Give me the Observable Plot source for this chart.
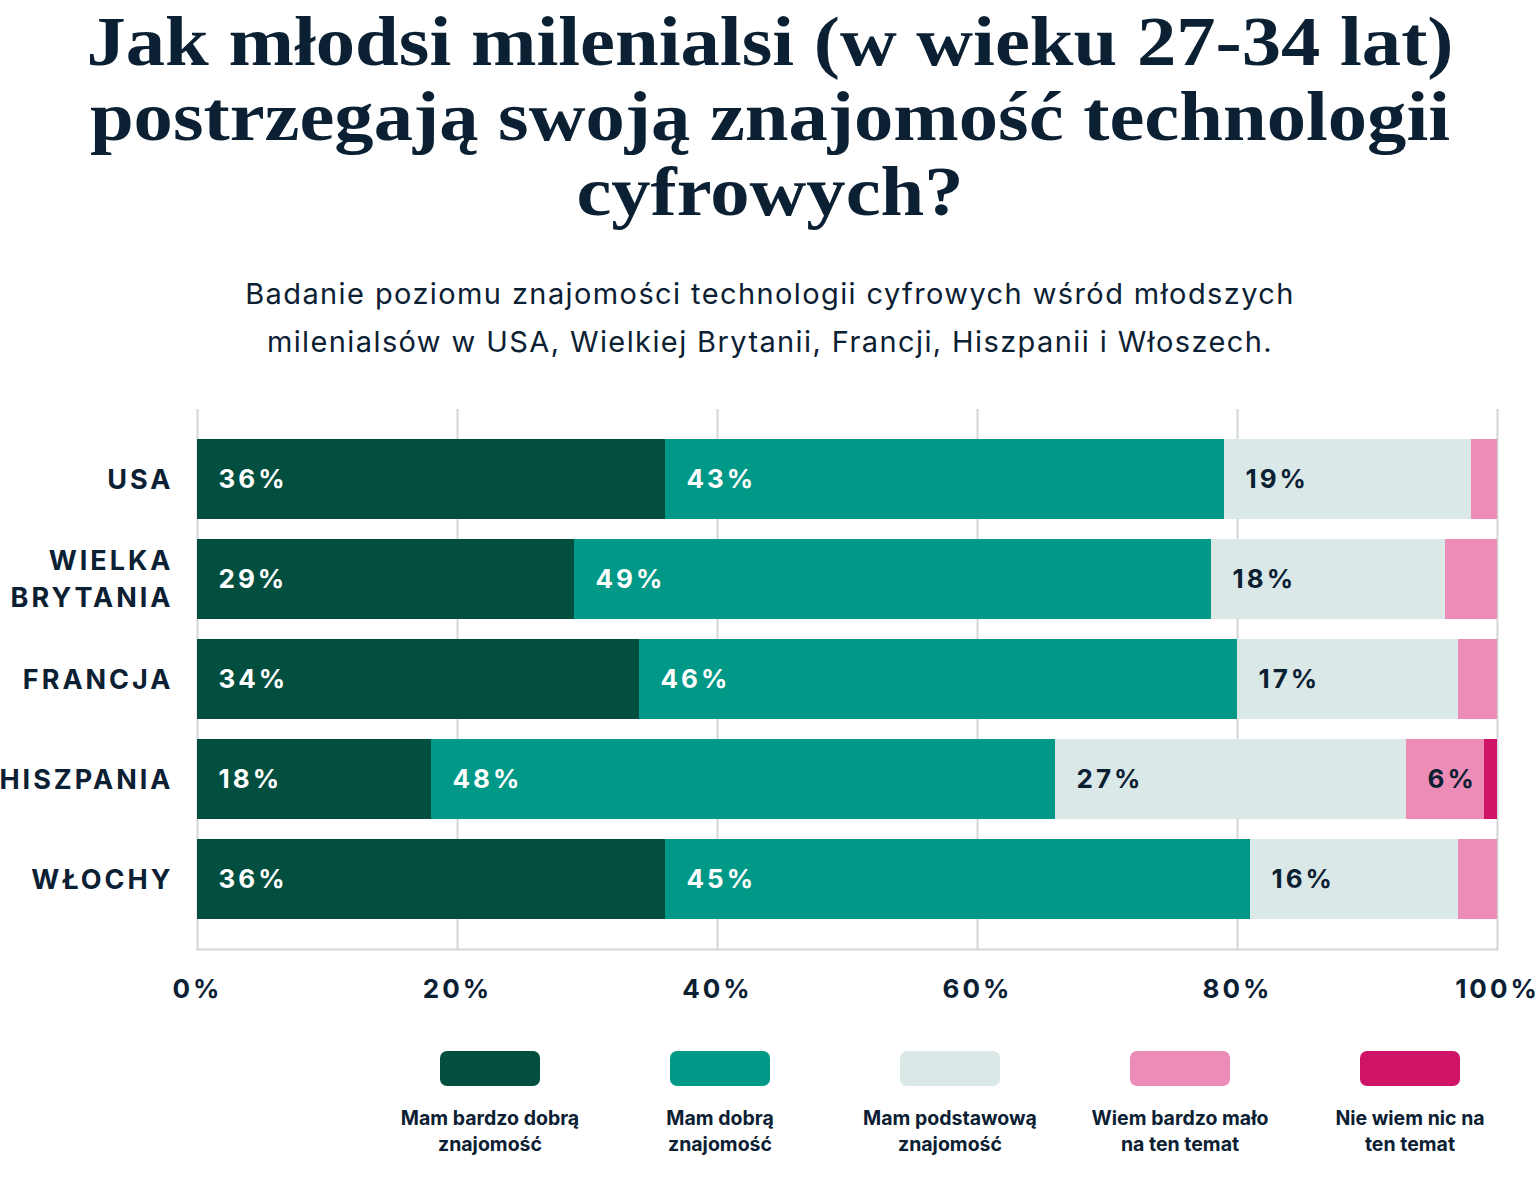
<!DOCTYPE html>
<html lang="pl">
<head>
<meta charset="utf-8">
<script src="https://cdn.jsdelivr.net/npm/d3@7"></script>
<script src="https://cdn.jsdelivr.net/npm/@observablehq/plot@0.6"></script>
<style>
  html, body { margin: 0; padding: 0; background: #fff; }
  #page { position: relative; width: 1540px; height: 1178px; overflow: hidden; color: #0b2033; }
  #title { position: absolute; left: 0; top: 4px; width: 1540px; text-align: center;
    font-family: "Liberation Serif", serif; font-weight: 700; font-size: 70px; line-height: 75px; color: #0b2033;
    transform: scaleX(1.123); transform-origin: 770px 0; }
  #subtitle { position: absolute; left: 0; top: 270px; width: 1540px; text-align: center;
    font-family: Inter, sans-serif; font-weight: 400; font-size: 29px; line-height: 48px; letter-spacing: 1.4px; color: #0b2033; }
  #chart { position: absolute; left: 0; top: 390px; }
  #chart text { letter-spacing: 3px; }
  .sw { position: absolute; top: 1051px; width: 100px; height: 35px; border-radius: 7px; }
  .lg { position: absolute; top: 1105px; width: 220px; text-align: center;
    font-family: Inter, sans-serif; font-weight: 700; font-size: 19.5px; line-height: 26px; color: #0b2033; }
</style>
</head>
<body>
<div id="page">
  <div id="title">Jak młodsi milenialsi (w wieku 27-34 lat)<br>postrzegają swoją znajomość technologii<br>cyfrowych?</div>
  <div id="subtitle">Badanie poziomu znajomości technologii cyfrowych wśród młodszych<br>milenialsów w USA, Wielkiej Brytanii, Francji, Hiszpanii i Włoszech.</div>
  <div id="chart"></div>
  <div id="legend"></div>
</div>
<script>
const countries = ["USA", "WIELKA BRYTANIA", "FRANCJA", "HISZPANIA", "WŁOCHY"];
const countryLabels = ["USA", "WIELKA\nBRYTANIA", "FRANCJA", "HISZPANIA", "WŁOCHY"];
const categories = ["Mam bardzo dobrą znajomość", "Mam dobrą znajomość", "Mam podstawową znajomość", "Wiem bardzo mało na ten temat", "Nie wiem nic na ten temat"];
const legendLines = [["Mam bardzo dobrą", "znajomość"], ["Mam dobrą", "znajomość"], ["Mam podstawową", "znajomość"], ["Wiem bardzo mało", "na ten temat"], ["Nie wiem nic na", "ten temat"]];
const veryGood   = [36, 29, 34, 18, 36];
const good       = [43, 49, 46, 48, 45];
const basic      = [19, 18, 17, 27, 16];
const veryLittle = [2, 4, 3, 6, 3];
const nothing    = [0, 0, 0, 1, 0];
const colors = ["#024f40", "#009886", "#dae8e7", "#ed8cb6", "#cf1468"];
const xTicks = [0, 20, 40, 60, 80, 100];

const series = [veryGood, good, basic, veryLittle, nothing];
const data = [];
countries.forEach((c, i) => {
  series.forEach((s, k) => {
    data.push({country: c, category: categories[k], k, value: s[i]});
  });
});

const dark = "#0b2033";
const grid = "#d3d6d9";
const labelText = d => d.value >= 5 ? d.value + "%" : "";

const chart = Plot.plot({
  width: 1540,
  height: 640,
  marginLeft: 197,
  marginRight: 43,
  marginTop: 19,
  marginBottom: 81,
  style: {fontFamily: "Inter, sans-serif", background: "transparent"},
  x: {domain: [0, 100], axis: null},
  y: {domain: countries, axis: null, paddingInner: 0.2, paddingOuter: 0.3},
  color: {domain: categories, range: colors},
  marks: [
    Plot.ruleX(xTicks, {x: d => d, stroke: grid, strokeWidth: 2}),
    Plot.frame({anchor: "bottom", stroke: grid, strokeWidth: 2}),
    Plot.barX(data, Plot.stackX({x: "value", y: "country", fill: "category", z: "category"})),
    Plot.text(data, Plot.stackX1({x: "value", y: "country", z: "category",
      text: d => d.k < 2 ? labelText(d) : "", fill: "#ffffff",
      textAnchor: "start", dx: 21, fontSize: 26, fontWeight: 700})),
    Plot.text(data, Plot.stackX1({x: "value", y: "country", z: "category",
      text: d => d.k >= 2 ? labelText(d) : "", fill: dark,
      textAnchor: "start", dx: 21, fontSize: 26, fontWeight: 700})),
    Plot.text(countries, {x: 0, y: d => d, text: (d, i) => countryLabels[i],
      textAnchor: "end", dx: -24, dy: -3, fontSize: 27, fontWeight: 700, fill: dark, lineHeight: 1.4}),
    Plot.text(xTicks, {x: d => d, frameAnchor: "bottom", dy: 48, text: d => d + "%",
      fontSize: 26, fontWeight: 700, fill: dark})
  ]
});
document.getElementById("chart").appendChild(chart);

const legend = document.getElementById("legend");
categories.forEach((c, i) => {
  const cx = 490 + 230 * i;
  const sw = document.createElement("div");
  sw.className = "sw";
  sw.style.left = (cx - 50) + "px";
  sw.style.background = colors[i];
  legend.appendChild(sw);
  const lg = document.createElement("div");
  lg.className = "lg";
  lg.style.left = (cx - 110) + "px";
  lg.innerHTML = legendLines[i].join("<br>");
  legend.appendChild(lg);
});
</script>
</body>
</html>
